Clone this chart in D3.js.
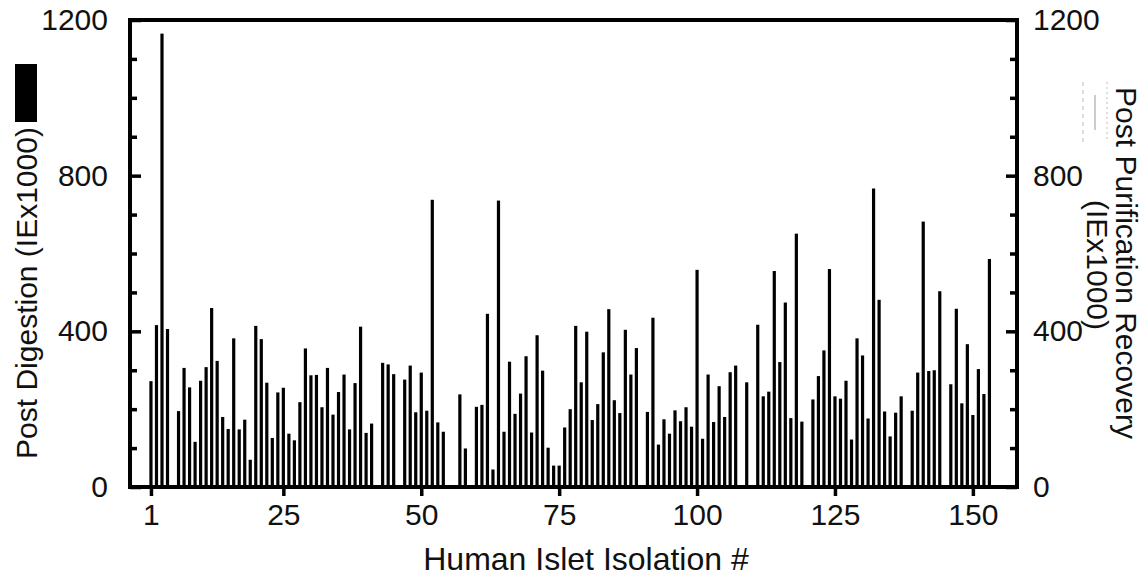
<!DOCTYPE html>
<html>
<head>
<meta charset="utf-8">
<script src="https://cdn.jsdelivr.net/npm/d3@7"></script>
<style>
  body { margin: 0; background: #fff; }
  svg text { font-family: "Liberation Sans", Arial, sans-serif; fill: #111; }
</style>
</head>
<body>
<div id="okvir"></div>
<script>
// isolation numbers 1..153 and post digestion yield (IEx1000), null = no bar
const isolationNo = [
  1,2,3,4,5,6,7,8,9,10,11,12,13,14,15,16,17,18,19,20,
  21,22,23,24,25,26,27,28,29,30,31,32,33,34,35,36,37,38,39,40,
  41,42,43,44,45,46,47,48,49,50,51,52,53,54,55,56,57,58,59,60,
  61,62,63,64,65,66,67,68,69,70,71,72,73,74,75,76,77,78,79,80,
  81,82,83,84,85,86,87,88,89,90,91,92,93,94,95,96,97,98,99,100,
  101,102,103,104,105,106,107,108,109,110,111,112,113,114,115,116,117,118,119,120,
  121,122,123,124,125,126,127,128,129,130,131,132,133,134,135,136,137,138,139,140,
  141,142,143,144,145,146,147,148,149,150,151,152,153
];
const postDigestion = [
  272,416,1165,406,null,195,306,256,116,273,308,460,324,180,149,382,148,173,70,414,
  380,268,126,243,255,137,120,218,356,287,288,205,306,186,244,289,148,267,412,139,
  163,null,319,315,290,null,276,312,192,294,196,738,166,142,null,null,238,99,null,206,
  211,445,45,736,142,322,188,240,336,140,390,299,101,55,55,153,200,414,269,399,
  172,213,346,457,223,190,404,289,357,null,193,435,109,174,137,197,169,205,155,558,
  124,289,167,259,180,295,312,null,269,null,417,233,245,555,321,474,177,651,168,null,
  225,285,351,560,233,227,273,122,382,338,176,767,481,194,130,191,233,null,196,294,
  682,298,300,503,null,264,458,215,367,185,303,239,586
];
const xTicks = [1, 25, 50, 75, 100, 125, 150];
const yMajor = [0, 400, 800, 1200];
const yMinor = [100, 200, 300, 500, 600, 700, 900, 1000, 1100];

const podatci = isolationNo
  .map((n, i) => ({ n: n, v: postDigestion[i] }))
  .filter(d => d.v !== null);

// dimenzije
const W = 1148, H = 582;
const plot = { left: 130, right: 1017, top: 20, bottom: 487 };

const svg = d3.select("#okvir").append("svg")
  .attr("width", W)
  .attr("height", H);

const x = d3.scaleLinear().domain([-2.8, 158]).range([plot.left, plot.right]);
const y = d3.scaleLinear().domain([0, 1200]).range([plot.bottom, plot.top]);

// bars (thin black lines)
svg.append("g")
  .selectAll("rect")
  .data(podatci)
  .join("rect")
    .attr("x", d => x(d.n) - 1.6)
    .attr("width", 3.2)
    .attr("y", d => y(d.v))
    .attr("height", d => y(0) - y(d.v))
    .attr("fill", "#000");

const fmt = d3.format("d");

// lijeva os
const lijevaMinor = d3.axisLeft(y).tickValues(yMinor).tickFormat("").tickSize(-7);
const lijevaMajor = d3.axisLeft(y).tickValues(yMajor).tickFormat(fmt).tickSize(-11).tickPadding(22);
svg.append("g").attr("transform", `translate(${plot.left},0)`).call(lijevaMinor);
svg.append("g").attr("transform", `translate(${plot.left},0)`).call(lijevaMajor);

// desna os
const desnaMinor = d3.axisRight(y).tickValues(yMinor).tickFormat("").tickSize(-7);
const desnaMajor = d3.axisRight(y).tickValues(yMajor).tickFormat(fmt).tickSize(-11).tickPadding(16);
svg.append("g").attr("transform", `translate(${plot.right},0)`).call(desnaMinor);
svg.append("g").attr("transform", `translate(${plot.right},0)`).call(desnaMajor);

// x os
const xOs = d3.axisBottom(x).tickValues(xTicks).tickSize(9).tickPadding(8);
svg.append("g").attr("transform", `translate(0,${plot.bottom})`).call(xOs);

svg.selectAll(".domain").remove();
svg.selectAll(".tick line").attr("stroke", "#000").attr("stroke-width", 3.5);
svg.selectAll(".tick text").style("font-size", "30px").attr("fill", "#111");

// okvir
svg.append("rect")
  .attr("x", plot.left)
  .attr("y", plot.top)
  .attr("width", plot.right - plot.left)
  .attr("height", plot.bottom - plot.top)
  .attr("fill", "none")
  .attr("stroke", "#000")
  .attr("stroke-width", 4);

// naslovi osi
svg.append("text")
  .attr("transform", "translate(37,293) rotate(-90)")
  .attr("text-anchor", "middle")
  .style("font-size", "30px")
  .text("Post Digestion (IEx1000)");

svg.append("rect")
  .attr("x", 15).attr("y", 64)
  .attr("width", 22).attr("height", 58)
  .attr("fill", "#000");

svg.append("text")
  .attr("transform", "translate(1116,263) rotate(90)")
  .attr("text-anchor", "middle")
  .style("font-size", "30px")
  .text("Post Purification Recovery");

svg.append("text")
  .attr("transform", "translate(1087,265) rotate(90)")
  .attr("text-anchor", "middle")
  .style("font-size", "30px")
  .text("(IEx1000)");

// faint legend symbol for purification series
const leg = svg.append("g").attr("stroke", "#bbb").attr("fill", "none").attr("stroke-width", 1);
leg.append("line").attr("x1", 1083).attr("x2", 1083).attr("y1", 82).attr("y2", 142).attr("stroke-dasharray", "4,4");
leg.append("line").attr("x1", 1107).attr("x2", 1107).attr("y1", 82).attr("y2", 142).attr("stroke-dasharray", "2,3");
leg.append("line").attr("x1", 1095).attr("x2", 1095).attr("y1", 95).attr("y2", 130).attr("stroke", "#999");

svg.append("text")
  .attr("x", 586)
  .attr("y", 570)
  .attr("text-anchor", "middle")
  .style("font-size", "32px")
  .text("Human Islet Isolation #");
</script>
</body>
</html>
